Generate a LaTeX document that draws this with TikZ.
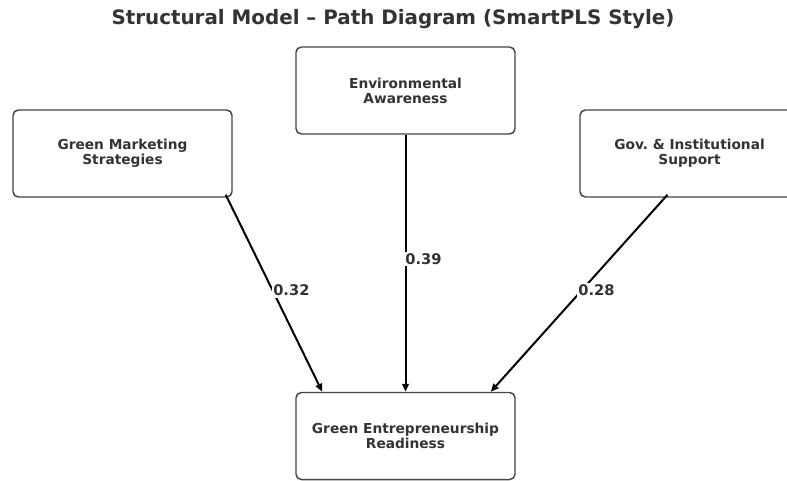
\documentclass[tikz,border=0pt]{standalone}
\usepackage{fontspec}
\setmainfont{DejaVu Sans}
\usetikzlibrary{arrows.meta}
\definecolor{inkgray}{HTML}{333333}
\definecolor{framegray}{HTML}{444444}
\tikzset{
  construct/.style={draw=framegray, line width=1.1pt, rounded corners=4pt, fill=white,
    minimum width=219*0.75pt, minimum height=87*0.75pt, inner sep=0pt,
    align=center, text=inkgray, font=\fontsize{10.3}{11.25}\selectfont\bfseries},
  pathline/.style={line width=1.5pt, -{Triangle[length=6pt,width=5pt]}},
  coef/.style={anchor=west, fill=white, inner sep=1.2pt, text=inkgray,
    font=\fontsize{11}{12}\selectfont\bfseries}
}
\begin{document}
\begin{tikzpicture}[x=0.75pt,y=-0.75pt,line join=round]
\def \xmax{787};
\def \ymax{480};
\useasboundingbox (0,0) rectangle (\xmax,\ymax);
\node[text=inkgray,font=\fontsize{14.9}{16}\selectfont\bfseries] (title) at (393,19)
  {Structural Model -- Path Diagram (SmartPLS Style)};
% latent constructs
\foreach \n/\x/\y/\t in {gms/122.5/153.5/{Green Marketing\\Strategies},
                         ea/405.5/90.5/{Environmental\\Awareness},
                         gis/689.5/153.5/{Gov.\ \& Institutional\\Support},
                         ger/405.5/436/{Green Entrepreneurship\\Readiness}}{
  \node[construct] (\n) at (\x,\y) {\t};
}
% path coefficients
\draw[pathline] ([shift={(-7,-3)}]gms.south east) -- ([xshift=27*0.75pt]ger.north west)
  node[coef,pos=0.5,xshift=-2.5pt,yshift=2pt] {0.32};
\draw[pathline] (ea.south) -- (ger.north)
  node[coef,pos=0.5,xshift=-2pt,yshift=3pt] {0.39};
\draw[pathline] ([shift={(-22,-3)}]gis.south) -- ([xshift=-25*0.75pt]ger.north east)
  node[coef,pos=0.5,xshift=-2.5pt,yshift=2pt] {0.28};
\end{tikzpicture}
\end{document}
